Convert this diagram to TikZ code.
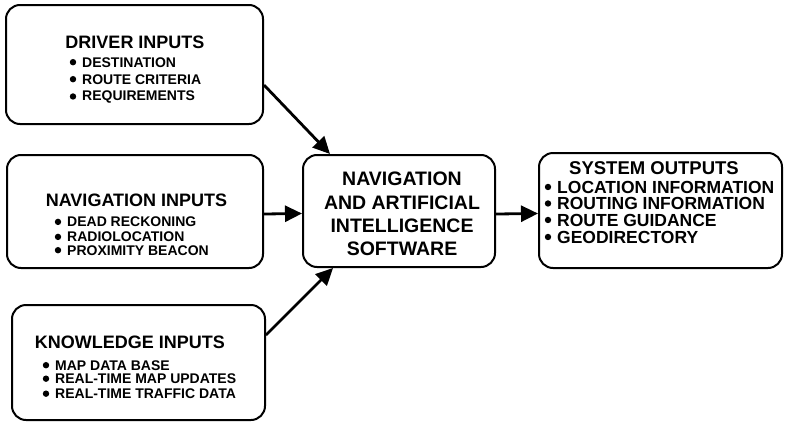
\documentclass[tikz,border=0pt]{standalone}
\usepackage{fontspec}
\setmainfont{Liberation Sans}
\usetikzlibrary{arrows.meta}

% one bulleted line: style, name, x, y (baseline), text
\newcommand\entry[5]{%
  \node[#1, anchor=base west] (#2) at (#3,#4) {#5};
  \fill ([xshift=-9pt]#2.west) circle (3.2pt);
}

\tikzset{
  panel/.style={draw, line width=2pt, rounded corners=14pt},
  head/.style={inner sep=0pt, anchor=base, font=\fontsize{18}{20}\selectfont\bfseries},
  small/.style={inner sep=0pt, font=\fontsize{14}{16}\selectfont\bfseries},
  big/.style={inner sep=0pt, font=\fontsize{17.5}{19}\selectfont\bfseries},
  core/.style={inner sep=0pt, anchor=base, font=\fontsize{19.5}{21}\selectfont\bfseries},
  conn/.style={line width=2.8pt, -{Triangle[length=17pt,width=16pt]}}
}

\begin{document}
\begin{tikzpicture}[x=1pt, y=-1pt]
\useasboundingbox (0,0) rectangle (789,423);

% frames
\node[panel, minimum width=257pt, minimum height=119pt] (driver)  at (134.5,64.5) {};
\node[panel, minimum width=256pt, minimum height=113pt] (nav)     at (135,211.5) {};
\node[panel, minimum width=253pt, minimum height=115pt] (know)    at (138.5,362.5) {};
\node[panel, minimum width=192pt, minimum height=112pt] (central) at (399,211) {};
\node[panel, minimum width=243pt, minimum height=115pt] (outputs) at (660.5,210.5) {};

% driver inputs
\node[head] (driverhead) at (135,48.5) {DRIVER INPUTS};
\entry{small}{d1}{82}{67}{DESTINATION}
\entry{small}{d2}{82}{84}{ROUTE CRITERIA}
\entry{small}{d3}{82}{100}{REQUIREMENTS}

% navigation inputs
\node[head] (navhead) at (136.5,206.5) {NAVIGATION INPUTS};
\entry{small}{n1}{67}{226.7}{DEAD RECKONING}
\entry{small}{n2}{67}{241.7}{RADIOLOCATION}
\entry{small}{n3}{67}{255}{PROXIMITY BEACON}

% knowledge inputs
\node[head] (knowhead) at (130,348.5) {KNOWLEDGE INPUTS};
\entry{small}{k1}{55}{370}{MAP DATA BASE}
\entry{small}{k2}{55}{383.5}{REAL-TIME MAP UPDATES}
\entry{small}{k3}{55}{398.5}{REAL-TIME TRAFFIC DATA}

% software
\node[core] (c1) at (402,185) {NAVIGATION};
\node[core] (c2) at (402,209) {AND ARTIFICIAL};
\node[core] (c3) at (402,232) {INTELLIGENCE};
\node[core] (c4) at (402,255) {SOFTWARE};

% system outputs
\node[head, font=\fontsize{18.5}{20}\selectfont\bfseries] (outhead) at (654,174.5) {SYSTEM OUTPUTS};
\entry{big}{o1}{557}{193}{LOCATION INFORMATION}
\entry{big}{o2}{557}{209.5}{ROUTING INFORMATION}
\entry{big}{o3}{557}{226}{ROUTE GUIDANCE}
\entry{big}{o4}{557}{243}{GEODIRECTORY}

% flows
\draw[conn] ([yshift=-20.5pt]driver.east) -- ([xshift=-69pt]central.north);
\draw[conn] ([yshift=-2.5pt]nav.east) -- ([yshift=-2.5pt]central.west);
\draw[conn] ([yshift=27.5pt]know.east) -- ([xshift=-66pt]central.south);
\draw[conn] ([yshift=-3pt]central.east) -- ([yshift=-3pt]outputs.west);
\end{tikzpicture}
\end{document}
